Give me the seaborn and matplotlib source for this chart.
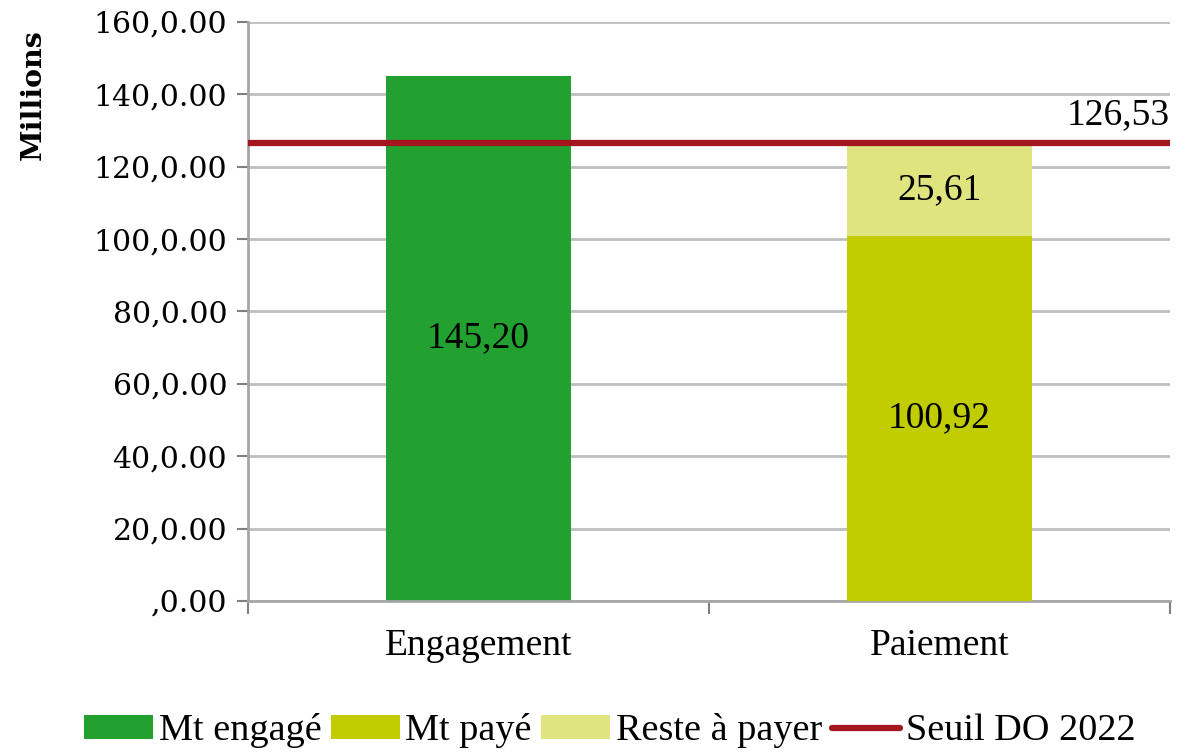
import numpy as np
import pandas as pd
import matplotlib
matplotlib.use("Agg")
import matplotlib.pyplot as plt
import seaborn as sns
from matplotlib.patches import Patch
from matplotlib.lines import Line2D

# ---- data ----
categories = ["Engagement", "Paiement"]
mt_engage = [145.20, None]
mt_paye = [None, 100.92]
reste_a_payer = [None, 25.61]
seuil_do_2022 = 126.53
bar_labels = ["145,20", "100,92", "25,61"]
seuil_label = "126,53"
ytick_values = [0, 20, 40, 60, 80, 100, 120, 140, 160]
ytick_labels = [",0.00", "20,0.00", "40,0.00", "60,0.00", "80,0.00",
                "100,0.00", "120,0.00", "140,0.00", "160,0.00"]
legend_labels = ["Mt engagé", "Mt payé", "Reste à payer", "Seuil DO 2022"]

c_engage = "#22A131"
c_paye = "#C1CD00"
c_reste = "#DFE47F"
c_seuil = "#A3161F"
c_grid = "#BFBFBF"

sns.set_theme(style="white")
plt.rcParams["font.family"] = ["Liberation Serif", "DejaVu Serif"]
plt.rcParams["text.color"] = "black"
plt.rcParams["xtick.color"] = "black"
plt.rcParams["ytick.color"] = "black"

fig = plt.figure(figsize=(11.91, 7.52), dpi=100)
ax = fig.add_axes([248 / 1191, 1 - 601 / 752, (1170 - 248) / 1191, (601 - 22) / 752])

# total for Paiement (drawn in "reste" colour), overlay paid part
total_paiement = mt_paye[1] + reste_a_payer[1]
df_back = pd.DataFrame({"cat": categories,
                        "val": [mt_engage[0], total_paiement]})
sns.barplot(data=df_back, x="cat", y="val", hue="cat",
            palette=[c_engage, c_reste], order=categories,
            width=0.4, legend=False, ax=ax, saturation=1, zorder=2)
df_paid = pd.DataFrame({"cat": [categories[1]], "val": [mt_paye[1]]})
sns.barplot(data=df_paid, x="cat", y="val", color=c_paye, order=categories,
            width=0.4, ax=ax, saturation=1, zorder=3)

for p in ax.patches:
    p.set_linewidth(0)

# threshold line
ax.axhline(seuil_do_2022, color=c_seuil, lw=4.5, zorder=5, solid_capstyle="round")

ax.set_xlim(-0.5, 1.5)
ax.set_ylim(0, 160)
ax.set_yticks(ytick_values)
ax.set_yticklabels(ytick_labels, family=["DejaVu Serif"], fontsize=21.5)
ax.yaxis.grid(True, color=c_grid, lw=2, zorder=0)
ax.set_axisbelow(True)

ax.set_xticks([0, 1])
ax.set_xticklabels(categories, fontsize=27)
ax.set_xticks([-0.5, 0.5, 1.5], minor=True)
ax.tick_params(axis="x", which="major", length=0, pad=20, bottom=True)
ax.tick_params(axis="x", which="minor", length=9, width=1.5, color="#808080",
               direction="out", bottom=True)
ax.tick_params(axis="y", length=8, width=1.5, color="#808080", labelcolor="black",
               direction="out", pad=7, left=True)
ax.set_xlabel("")
ax.set_ylabel("")

for s in ["top", "right"]:
    ax.spines[s].set_visible(False)
for s in ["left", "bottom"]:
    ax.spines[s].set_color("#A6A6A6")
    ax.spines[s].set_linewidth(2)

# value labels
ax.text(0, mt_engage[0] / 2, bar_labels[0], ha="center", va="center", fontsize=27, zorder=6)
ax.text(1, mt_paye[1] / 2, bar_labels[1], ha="center", va="center", fontsize=27, zorder=6)
ax.text(1, mt_paye[1] + reste_a_payer[1] / 2, bar_labels[2], ha="center", va="center",
        fontsize=27, zorder=6)
ax.annotate(seuil_label, xy=(1.5, seuil_do_2022), xytext=(0, 8), textcoords="offset points",
            ha="right", va="bottom", fontsize=27, annotation_clip=False)

fig.text(33 / 1191, 1 - 95 / 752, "Millions", rotation=90, ha="center", va="center",
         family=["DejaVu Serif"], fontweight="bold", fontsize=20.5)

handles = [Patch(facecolor=c_engage, edgecolor="none"),
           Patch(facecolor=c_paye, edgecolor="none"),
           Patch(facecolor=c_reste, edgecolor="none"),
           Line2D([0], [0], color=c_seuil, lw=4.5)]
fig.legend(handles, legend_labels, loc="center", bbox_to_anchor=(610 / 1191, 1 - 731 / 752),
           ncol=4, frameon=False, fontsize=27.5, handlelength=1.8, handleheight=0.6,
           handletextpad=0.15, columnspacing=0.25, borderaxespad=0)

fig.savefig("out.png", dpi=100)
